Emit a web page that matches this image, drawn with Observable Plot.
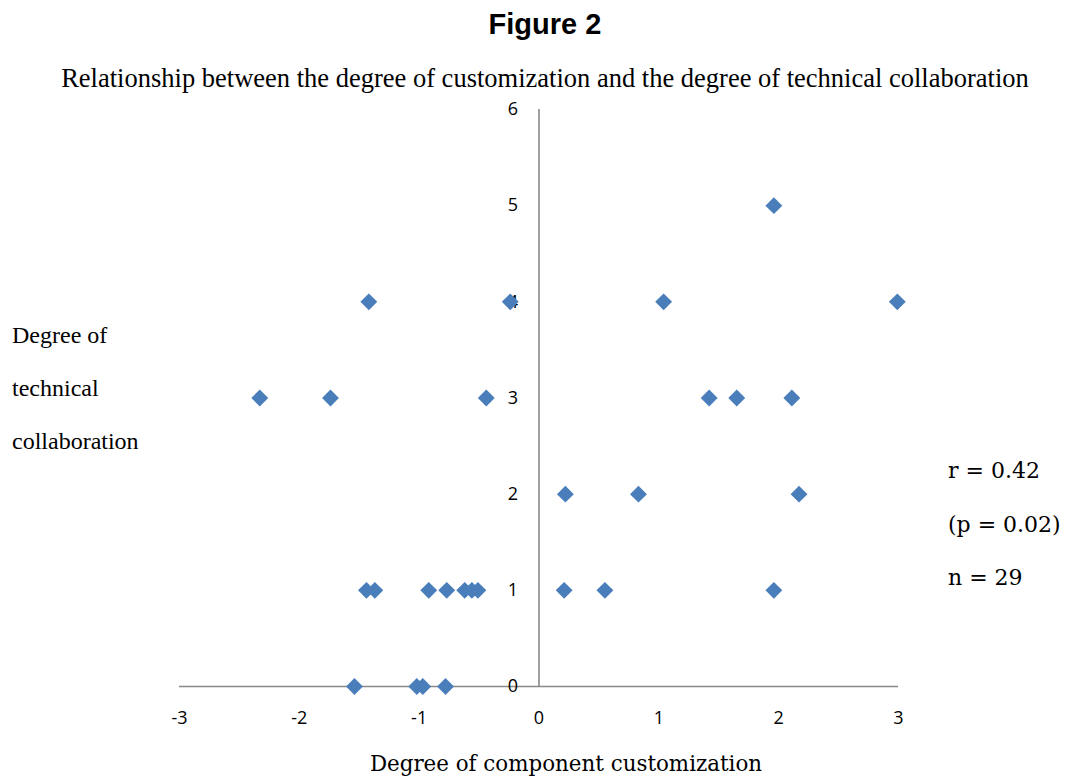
<!DOCTYPE html>
<html>
<head>
<meta charset="utf-8">
<script src="https://cdn.jsdelivr.net/npm/d3@7"></script>
<script src="https://cdn.jsdelivr.net/npm/@observablehq/plot@0.6"></script>
<style>
  body { margin: 0; background: #fff; }
  #wrap { position: relative; width: 1067px; height: 778px; overflow: hidden; }
  .abs { position: absolute; white-space: nowrap; }
  #title { top: 8px; left: 545px; transform: translateX(-50%); font: bold 29px "Liberation Sans", Arial, sans-serif; color: #000; }
  #subtitle { top: 63px; left: 545px; transform: translateX(-50%); font: 26.5px "Liberation Serif", "Times New Roman", serif; color: #000; }
  #chart { position: absolute; top: 95px; left: 0; }
  #ylab { left: 12px; top: 309px; font: 24px "Liberation Serif", "Times New Roman", serif; line-height: 53px; }
  #stats { left: 948px; top: 444px; font: 22px "DejaVu Serif", serif; line-height: 53.5px; }
  #xlab { top: 751px; left: 566px; transform: translateX(-50%); font: 21.4px "DejaVu Serif", serif; }
</style>
</head>
<body>
<div id="wrap">
  <div id="title" class="abs">Figure 2</div>
  <div id="subtitle" class="abs">Relationship between the degree of customization and the degree of technical collaboration</div>
  <div id="chart"></div>
  <div id="ylab" class="abs"></div>
  <div id="stats" class="abs"></div>
  <div id="xlab" class="abs"></div>
</div>
<script>
// Degree of component customization (x) and degree of technical collaboration (y)
const customization = [
  1.96,
  -1.42, -0.24, 1.04, 2.99,
  -2.33, -1.74, -0.44, 1.42, 1.65, 2.11,
  0.22, 0.83, 2.17,
  -1.44, -1.37, -0.92, -0.77, -0.62, -0.56, -0.51, 0.21, 0.55, 1.96,
  -1.54, -1.02, -0.97, -0.78
];
const collaboration = [
  5,
  4, 4, 4, 4,
  3, 3, 3, 3, 3, 3,
  2, 2, 2,
  1, 1, 1, 1, 1, 1, 1, 1, 1, 1,
  0, 0, 0, 0
];
const xTicks = [-3, -2, -1, 0, 1, 2, 3];
const yTicks = [0, 1, 2, 3, 4, 5, 6];
const yLabelLines = ["Degree of", "technical", "collaboration"];
const statLines = ["r = 0.42", "(p = 0.02)", "n = 29"];
const xLabelText = "Degree of component customization";

const points = customization.map((x, i) => ({x, y: collaboration[i]}));

const tickFont = "\"Open Sans\", \"Liberation Sans\", sans-serif";
const axisColor = "#888888";

const chart = Plot.plot({
  width: 1067,
  height: 683,
  marginLeft: 179,
  marginRight: 169,
  marginTop: 14,
  marginBottom: 92,
  x: {domain: [-3, 3], axis: null},
  y: {domain: [0, 6], axis: null},
  style: {background: "transparent"},
  marks: [
    Plot.ruleY([0], {stroke: axisColor, strokeWidth: 1.6}),
    Plot.ruleX([0], {stroke: axisColor, strokeWidth: 1.6}),
    Plot.text(yTicks, {x: () => 0, y: d => d, text: d => String(d), textAnchor: "end", dx: -21, fontSize: 18, fontFamily: tickFont, fill: "#000"}),
    Plot.text(xTicks, {x: d => d, y: () => 0, text: d => String(d), textAnchor: "middle", dy: 32, fontSize: 18, fontFamily: tickFont, fill: "#000"}),
    Plot.dot(points, {x: "x", y: "y", symbol: "diamond2", r: 7.6, fill: "#4A7EBB", stroke: "none"})
  ]
});
document.getElementById("chart").appendChild(chart);

document.getElementById("ylab").innerHTML = yLabelLines.join("<br>");
document.getElementById("stats").innerHTML = statLines.join("<br>");
document.getElementById("xlab").textContent = xLabelText;
</script>
</body>
</html>
